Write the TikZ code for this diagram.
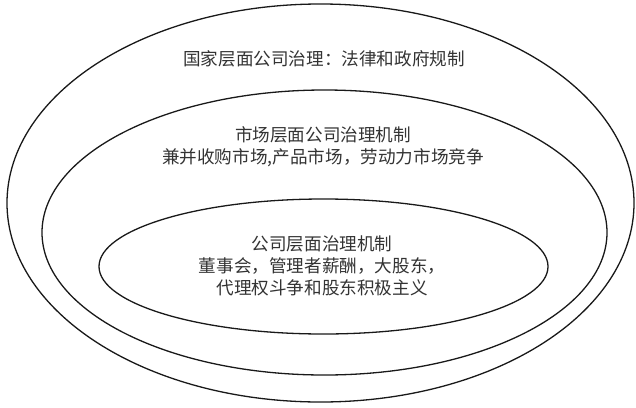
\documentclass[tikz,border=0pt]{standalone}
\usepackage{fontspec}
\newfontfamily\cjk{Noto Sans CJK SC}
\tikzset{
  ring/.style={draw=black!90, line width=1.3pt},
  label/.style={font=\cjk\fontsize{17.6}{22}\selectfont, text=black!80, align=center, inner sep=0pt}
}
\begin{document}
\begin{tikzpicture}[x=1pt,y=-1pt]
\useasboundingbox (0,0) rectangle (636,407);
\draw[ring] (320.5,203) ellipse [x radius=313.5, y radius=199];
\draw[ring] (324.5,232.5) ellipse [x radius=282.5, y radius=142.5];
\draw[ring] (323.5,266.5) ellipse [x radius=224.5, y radius=67.5];
\node[label] (national) at (324,59) {国家层面公司治理：法律和政府规制};
\node[label] (market) at (323,147) {市场层面公司治理机制\\兼并收购市场,产品市场，劳动力市场竞争};
\node[label] (firm) at (322,266) {公司层面治理机制\\董事会，管理者薪酬，大股东，\\代理权斗争和股东积极主义};
\end{tikzpicture}
\end{document}
